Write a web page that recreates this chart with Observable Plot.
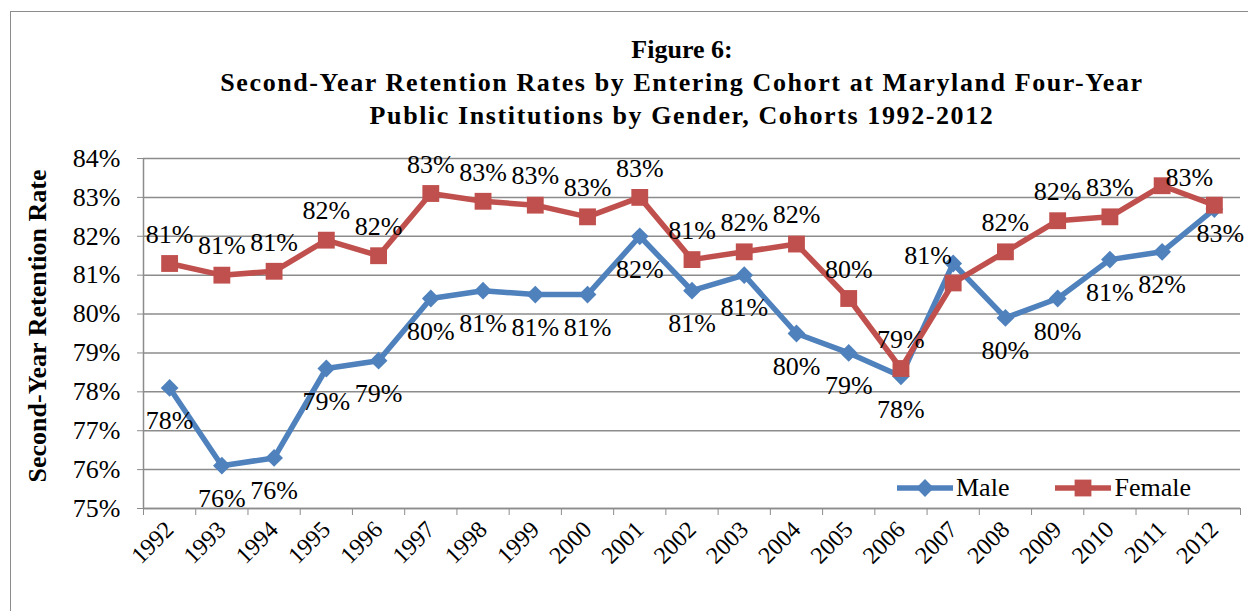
<!DOCTYPE html>
<html><head><meta charset="utf-8">
<script src="https://cdn.jsdelivr.net/npm/d3@7"></script>
<script src="https://cdn.jsdelivr.net/npm/@observablehq/plot@0.6"></script>
<style>
html,body{margin:0;padding:0;background:#fff;overflow:hidden;}
body{width:1248px;height:611px;position:relative;font-family:"Liberation Serif","Times New Roman",serif;color:#000;}
#frame{position:absolute;left:10px;top:11px;width:1300px;height:700px;border:1.5px solid #8c8c8c;box-sizing:border-box;}
#title{position:absolute;left:0;width:1364px;top:33px;text-align:center;font-weight:bold;font-size:26px;line-height:33px;}
#title .wide{letter-spacing:1.6px;}
#ytitle{position:absolute;left:-162px;top:311px;width:400px;text-align:center;font-weight:bold;font-size:26px;line-height:30px;transform:rotate(-90deg);}
#chart{position:absolute;left:0;top:140px;}
#legend{position:absolute;top:473px;left:895px;font-size:26px;line-height:30px;display:flex;align-items:center;}
#legend .item{display:flex;align-items:center;}
#legend svg{display:block;}
</style>
</head><body>
<div id="frame"></div>
<div id="title">Figure 6:<br><span class="wide">Second-Year Retention Rates by Entering Cohort at Maryland Four-Year</span><br><span class="wide">Public Institutions by Gender, Cohorts 1992-2012</span></div>
<div id="ytitle">Second-Year Retention Rate</div>
<div id="chart"></div>
<div id="legend"></div>
<script>
const years = [1992,1993,1994,1995,1996,1997,1998,1999,2000,2001,2002,2003,2004,2005,2006,2007,2008,2009,2010,2011,2012];
const male   = [78.1,76.1,76.3,78.6,78.8,80.4,80.6,80.5,80.5,82.0,80.6,81.0,79.5,79.0,78.4,81.3,79.9,80.4,81.4,81.6,82.7];
const female = [81.3,81.0,81.1,81.9,81.5,83.1,82.9,82.8,82.5,83.0,81.4,81.6,81.8,80.4,78.6,80.8,81.6,82.4,82.5,83.3,82.8];
const yTicks = [75,76,77,78,79,80,81,82,83,84];
const seriesNames = ["Male","Female"];
const seriesColors = ["#4F81BD","#C0504D"];
// labels not shown in the original
const hiddenLabels = [["Male",2007],["Female",2011]];
// labels that sit off their usual spot in the original
const shiftedLabels = [["Female",2007],["Female",2012],["Male",2012]];

const rows = years.flatMap((y,i)=>[
  {year:y, series:"Male", value:male[i]},
  {year:y, series:"Female", value:female[i]}
]);
const maleRows = rows.filter(d=>d.series==="Male");
const femaleRows = rows.filter(d=>d.series==="Female");
const inList = list => d => list.some(([s,y])=>s===d.series && y===d.year);
const isHidden = inList(hiddenLabels);
const isShifted = inList(shiftedLabels);
const normal = d => !isHidden(d) && !isShifted(d);
const fmt = d => Math.round(d.value) + "%";
const boundaries = years.map(y=>y-0.5).concat([years[years.length-1]+0.5]);
const gray = "#8c8c8c";
const FONT = "'Liberation Serif','Times New Roman',serif";

const chart = Plot.plot({
  width:1248, height:471,
  marginLeft:143, marginRight:8, marginTop:18, marginBottom:103,
  x:{type:"linear", domain:[years[0]-0.5, years[years.length-1]+0.5]},
  y:{domain:[75,84]},
  style:{fontFamily:FONT, fontSize:"26px", color:"#000", background:"transparent", overflow:"visible"},
  marks:[
    Plot.gridY(yTicks, {stroke:gray, strokeOpacity:1, strokeWidth:1.5}),
    Plot.axisY(yTicks, {tickSize:6, tickPadding:17, tickFormat:d=>d+"%", stroke:gray, strokeOpacity:1, label:null, fontSize:26, fill:"#000"}),
    Plot.ruleX([years[0]-0.5], {stroke:gray, strokeWidth:1.5}),
    Plot.ruleY([75], {stroke:gray, strokeWidth:1.5}),
    Plot.axisX(boundaries, {tickSize:7, tickFormat:()=>"", stroke:gray, strokeOpacity:1, label:null}),
    Plot.axisX(years, {tickSize:0, tickPadding:17, tickRotate:-45, tickFormat:d=>String(d), label:null, fontSize:24, fill:"#000"}),
    Plot.line(maleRows, {x:"year", y:"value", stroke:seriesColors[0], strokeWidth:5.5, strokeLinejoin:"round"}),
    Plot.dot(maleRows, {x:"year", y:"value", symbol:"diamond2", r:8, fill:seriesColors[0], stroke:null}),
    Plot.line(femaleRows, {x:"year", y:"value", stroke:seriesColors[1], strokeWidth:5.5, strokeLinejoin:"round"}),
    Plot.dot(femaleRows, {x:"year", y:"value", symbol:"square", r:9.5, fill:seriesColors[1], stroke:null}),
    Plot.text(maleRows.filter(normal), {x:"year", y:"value", text:fmt, dy:33, fontSize:26, fill:"#000"}),
    Plot.text(femaleRows.filter(normal), {x:"year", y:"value", text:fmt, dy:-29, fontSize:26, fill:"#000"}),
    Plot.text(femaleRows.filter(isShifted), {x:"year", y:"value", text:fmt, dx:-25, dy:-27, fontSize:26, fill:"#000"}),
    Plot.text(maleRows.filter(isShifted), {x:"year", y:"value", text:fmt, dx:6, dy:25, fontSize:26, fill:"#000"})
  ]
});
document.getElementById("chart").appendChild(chart);

// legend
const legend = document.getElementById("legend");
seriesNames.forEach((name,i)=>{
  const item = document.createElement("div");
  item.className = "item";
  item.style.marginRight = i===0 ? "44px" : "0";
  const sw = d3.create("svg").attr("width",58).attr("height",30);
  sw.append("line").attr("x1",2).attr("x2",58).attr("y1",15).attr("y2",15).attr("stroke",seriesColors[i]).attr("stroke-width",5.5);
  if(i===0){
    sw.append("path").attr("d", d3.symbol(d3.symbolDiamond2, Math.PI*64)()).attr("transform","translate(30,15)").attr("fill",seriesColors[i]);
  } else {
    sw.append("path").attr("d", d3.symbol(d3.symbolSquare, Math.PI*90)()).attr("transform","translate(30,15)").attr("fill",seriesColors[i]);
  }
  item.appendChild(sw.node());
  const t = document.createElement("span");
  t.textContent = name;
  t.style.marginLeft = "3px";
  item.appendChild(t);
  legend.appendChild(item);
});
</script>
</body></html>
